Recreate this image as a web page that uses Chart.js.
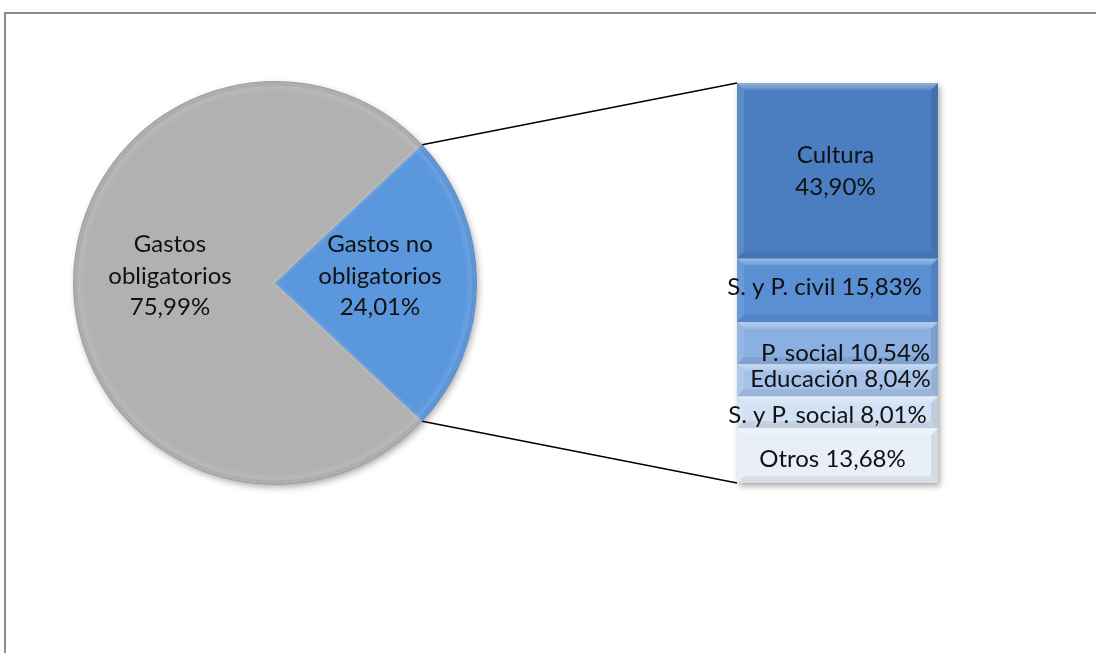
<!DOCTYPE html>
<html>
<head>
<meta charset="utf-8">
<script src="https://cdn.jsdelivr.net/npm/chart.js@4.4.1/dist/chart.umd.min.js"></script>
<style>
  html, body { margin: 0; padding: 0; background: #fff; overflow: hidden; }
  #wrap { position: relative; width: 1096px; height: 653px; }
  #frame { position: absolute; left: 4px; top: 12px; width: 1120px; height: 680px;
           border-left: 2px solid #8c8c8c; border-top: 2px solid #8c8c8c; }
  canvas { position: absolute; left: 0; top: 0; }
</style>
</head>
<body>
<div id="wrap">
  <div id="frame"></div>
  <canvas id="pie" width="1096" height="653"></canvas>
  <canvas id="bar" width="1096" height="653"></canvas>
</div>
<script>
// gasto total: obligatorio / no obligatorio
const pieLabels = [['Gastos', 'obligatorios'], ['Gastos no', 'obligatorios']]
const pieValues = [75.99, 24.01]
const pieColors = ['#b1b1b1', '#5b97dd']

// desglose del gasto no obligatorio (de arriba a abajo)
const barLabels = ['Cultura', 'S. y P. civil', 'P. social', 'Educación', 'S. y P. social', 'Otros']
const barValues = [43.90, 15.83, 10.54, 8.04, 8.01, 13.68]
const barColors = ['#4a7ec0', '#5a8fd3', '#8bafe0', '#a7c2e9', '#d3e1f4', '#e8eff9']

// pequeños ajustes de posición de las etiquetas [dx, dy]
const barLabelNudge = [[-2, 0], [-13, -3], [8, 10], [3, -1], [-10, 3], [-5, 4]]

const FONT = '24px Lato, "Open Sans", sans-serif'
const fmt = v => v.toFixed(2).replace('.', ',') + '%'

const pieShare = pieValues[0] / pieValues.reduce((a, b) => a + b, 0)

// sombra y relieve del pastel
const pieBevel = {
  id: 'pieBevel',
  beforeDatasetsDraw(chart) {
    const arc = chart.getDatasetMeta(0).data[0]
    const ctx = chart.ctx
    ctx.save()
    ctx.shadowColor = 'rgba(0,0,0,0.35)'
    ctx.shadowBlur = 7
    ctx.shadowOffsetX = 2
    ctx.shadowOffsetY = 3
    ctx.fillStyle = '#b1b1b1'
    ctx.beginPath()
    ctx.arc(arc.x, arc.y, arc.outerRadius - 1, 0, Math.PI * 2)
    ctx.fill()
    ctx.restore()
  },
  afterDatasetsDraw(chart) {
    const ctx = chart.ctx
    chart.getDatasetMeta(0).data.forEach(arc => {
      const r = arc.outerRadius
      ctx.save()
      ctx.beginPath()
      ctx.moveTo(arc.x, arc.y)
      ctx.arc(arc.x, arc.y, r, arc.startAngle, arc.endAngle)
      ctx.closePath()
      ctx.clip()
      const g = ctx.createRadialGradient(arc.x, arc.y, 0, arc.x, arc.y, r)
      g.addColorStop(0, 'rgba(255,255,255,0)')
      g.addColorStop((r - 12) / r, 'rgba(255,255,255,0)')
      g.addColorStop((r - 6) / r, 'rgba(255,255,255,0.10)')
      g.addColorStop((r - 2) / r, 'rgba(0,0,0,0.03)')
      g.addColorStop(1, 'rgba(0,0,0,0.18)')
      ctx.fillStyle = g
      ctx.fill()
      // borde de las caras radiales
      ctx.lineWidth = 5
      ctx.strokeStyle = 'rgba(255,255,255,0.08)'
      ctx.stroke()
      ctx.restore()
    })
  }
}

const pieText = {
  id: 'pieText',
  afterDraw(chart) {
    const ctx = chart.ctx
    ctx.save()
    ctx.font = FONT
    ctx.fillStyle = '#111'
    ctx.textAlign = 'center'
    ctx.textBaseline = 'middle'
    chart.getDatasetMeta(0).data.forEach((arc, i) => {
      const mid = (arc.startAngle + arc.endAngle) / 2
      const d = arc.outerRadius * 0.52
      const cx = arc.x + Math.cos(mid) * d
      const cy = arc.y + Math.sin(mid) * d - 7
      const lines = [...pieLabels[i], fmt(pieValues[i])]
      lines.forEach((t, k) => ctx.fillText(t, cx, cy + (k - 1) * 31.5))
    })
    ctx.restore()
  }
}

const pieChart = new Chart(document.getElementById('pie'), {
  type: 'pie',
  data: {
    labels: pieLabels,
    datasets: [{ data: pieValues, backgroundColor: pieColors, borderWidth: 0 }]
  },
  options: {
    responsive: false,
    animation: false,
    devicePixelRatio: 1,
    rotation: 270 - pieShare * 180,
    layout: { padding: { left: 73, right: 619, top: 81, bottom: 168 } },
    plugins: { legend: { display: false }, tooltip: { enabled: false } }
  },
  plugins: [pieBevel, pieText]
})

function barBox(bar) {
  const top = Math.min(bar.y, bar.base)
  const bottom = Math.max(bar.y, bar.base)
  return { left: bar.x - bar.width / 2, right: bar.x + bar.width / 2, top, bottom }
}

// líneas que unen la porción azul con la barra
const connectors = {
  id: 'connectors',
  beforeDatasetsDraw(chart) {
    const arc = pieChart.getDatasetMeta(0).data[1]
    const boxes = chart.data.datasets.map((ds, i) => barBox(chart.getDatasetMeta(i).data[0]))
    const top = Math.min(...boxes.map(b => b.top))
    const bottom = Math.max(...boxes.map(b => b.bottom))
    const left = boxes[0].left
    const right = boxes[0].right
    const r = arc.outerRadius
    const p1 = [arc.x + Math.cos(arc.startAngle) * r, arc.y + Math.sin(arc.startAngle) * r]
    const p2 = [arc.x + Math.cos(arc.endAngle) * r, arc.y + Math.sin(arc.endAngle) * r]
    const [up, down] = p1[1] < p2[1] ? [p1, p2] : [p2, p1]
    const ctx = chart.ctx
    ctx.save()
    // sombra de la barra
    ctx.shadowColor = 'rgba(0,0,0,0.35)'
    ctx.shadowBlur = 6
    ctx.shadowOffsetX = 2
    ctx.shadowOffsetY = 3
    ctx.fillStyle = '#dfe8f5'
    ctx.fillRect(left, top, right - left, bottom - top)
    ctx.restore()
    ctx.save()
    ctx.strokeStyle = '#000'
    ctx.lineWidth = 1.5
    ctx.beginPath()
    ctx.moveTo(up[0], up[1])
    ctx.lineTo(left, top)
    ctx.moveTo(down[0], down[1])
    ctx.lineTo(left, bottom)
    ctx.stroke()
    ctx.restore()
  }
}

// relieve de cada segmento
const barBevel = {
  id: 'barBevel',
  afterDatasetsDraw(chart) {
    const ctx = chart.ctx
    chart.data.datasets.forEach((ds, i) => {
      const b = barBox(chart.getDatasetMeta(i).data[0])
      const h = b.bottom - b.top
      const e = Math.min(7, h / 3)
      ctx.save()
      // arriba claro
      const g = ctx.createLinearGradient(0, b.top, 0, b.top + e)
      g.addColorStop(0, 'rgba(255,255,255,0.40)')
      g.addColorStop(1, 'rgba(255,255,255,0.10)')
      ctx.fillStyle = g
      ctx.beginPath()
      ctx.moveTo(b.left, b.top)
      ctx.lineTo(b.right, b.top)
      ctx.lineTo(b.right - e, b.top + e)
      ctx.lineTo(b.left + e, b.top + e)
      ctx.closePath()
      ctx.fill()
      // izquierda claro
      ctx.fillStyle = 'rgba(255,255,255,0.10)'
      ctx.beginPath()
      ctx.moveTo(b.left, b.top)
      ctx.lineTo(b.left + e, b.top + e)
      ctx.lineTo(b.left + e, b.bottom - e)
      ctx.lineTo(b.left, b.bottom)
      ctx.closePath()
      ctx.fill()
      // derecha oscuro
      ctx.fillStyle = 'rgba(0,0,0,0.09)'
      ctx.beginPath()
      ctx.moveTo(b.right, b.top)
      ctx.lineTo(b.right - e, b.top + e)
      ctx.lineTo(b.right - e, b.bottom - e)
      ctx.lineTo(b.right, b.bottom)
      ctx.closePath()
      ctx.fill()
      // abajo oscuro
      ctx.fillStyle = 'rgba(0,0,0,0.07)'
      ctx.beginPath()
      ctx.moveTo(b.left, b.bottom)
      ctx.lineTo(b.right, b.bottom)
      ctx.lineTo(b.right - e, b.bottom - e)
      ctx.lineTo(b.left + e, b.bottom - e)
      ctx.closePath()
      ctx.fill()
      ctx.restore()
    })
  },
  afterDraw(chart) {
    const ctx = chart.ctx
    ctx.save()
    ctx.font = FONT
    ctx.fillStyle = '#111'
    ctx.textAlign = 'center'
    ctx.textBaseline = 'middle'
    chart.data.datasets.forEach((ds, i) => {
      const b = barBox(chart.getDatasetMeta(i).data[0])
      const cx = (b.left + b.right) / 2 + barLabelNudge[i][0]
      const cy = (b.top + b.bottom) / 2 + barLabelNudge[i][1]
      if (b.bottom - b.top > 100) {
        ctx.fillText(barLabels[i], cx, cy - 16)
        ctx.fillText(fmt(barValues[i]), cx, cy + 16)
      } else {
        ctx.fillText(barLabels[i] + ' ' + fmt(barValues[i]), cx, cy)
      }
    })
    ctx.restore()
  }
}

const barChart = new Chart(document.getElementById('bar'), {
  type: 'bar',
  data: {
    labels: [''],
    datasets: barLabels.map((name, i) => ({
      label: name,
      data: [barValues[i]],
      backgroundColor: barColors[i],
      borderWidth: 0,
      barPercentage: 1,
      categoryPercentage: 1
    }))
  },
  options: {
    responsive: false,
    animation: false,
    devicePixelRatio: 1,
    layout: { padding: { left: 737, right: 158, top: 83, bottom: 170 } },
    scales: {
      x: { stacked: true, display: false },
      y: { stacked: true, display: false, reverse: true, min: 0, max: 100 }
    },
    plugins: { legend: { display: false }, tooltip: { enabled: false } }
  },
  plugins: [connectors, barBevel]
})
</script>
</body>
</html>
